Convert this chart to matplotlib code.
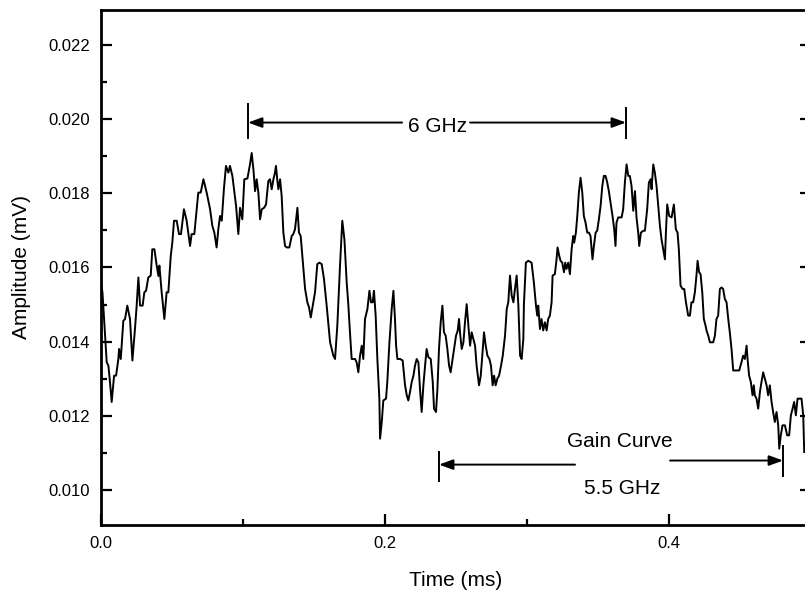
import matplotlib
matplotlib.use("Agg")
from matplotlib import pyplot as plt
from matplotlib.ticker import MultipleLocator, FormatStrFormatter

time_ms = [
    0.0000, 0.0010, 0.0020, 0.0040, 0.0052, 0.0063, 0.0075, 0.0092, 0.0106, 0.0122,
    0.0127, 0.0139, 0.0150, 0.0157, 0.0169, 0.0185, 0.0204, 0.0221, 0.0239, 0.0251,
    0.0263, 0.0275, 0.0293, 0.0305, 0.0317, 0.0333, 0.0350, 0.0361, 0.0376, 0.0392,
    0.0404, 0.0411, 0.0427, 0.0446, 0.0462, 0.0474, 0.0491, 0.0502, 0.0514, 0.0533,
    0.0549, 0.0563, 0.0584, 0.0603, 0.0627, 0.0638, 0.0657, 0.0674, 0.0685, 0.0702,
    0.0721, 0.0744, 0.0768, 0.0784, 0.0798, 0.0814, 0.0826, 0.0838, 0.0850, 0.0866,
    0.0880, 0.0897, 0.0908, 0.0925, 0.0951, 0.0967, 0.0979, 0.0995, 0.1009, 0.1031,
    0.1049, 0.1061, 0.1073, 0.1085, 0.1096, 0.1108, 0.1120, 0.1132, 0.1148, 0.1162,
    0.1178, 0.1190, 0.1202, 0.1214, 0.1225, 0.1232, 0.1242, 0.1249, 0.1261, 0.1272,
    0.1284, 0.1296, 0.1308, 0.1326, 0.1343, 0.1354, 0.1366, 0.1383, 0.1394, 0.1406,
    0.1420, 0.1437, 0.1453, 0.1465, 0.1477, 0.1491, 0.1507, 0.1523, 0.1538, 0.1554,
    0.1570, 0.1589, 0.1613, 0.1636, 0.1648, 0.1664, 0.1683, 0.1699, 0.1714, 0.1730,
    0.1742, 0.1753, 0.1765, 0.1789, 0.1800, 0.1812, 0.1824, 0.1836, 0.1847, 0.1859,
    0.1876, 0.1890, 0.1901, 0.1913, 0.1922, 0.1934, 0.1946, 0.1960, 0.1965, 0.1977,
    0.1988, 0.2007, 0.2016, 0.2031, 0.2047, 0.2059, 0.2070, 0.2078, 0.2087, 0.2106,
    0.2124, 0.2141, 0.2153, 0.2164, 0.2176, 0.2188, 0.2200, 0.2211, 0.2223, 0.2235,
    0.2246, 0.2258, 0.2270, 0.2282, 0.2293, 0.2305, 0.2322, 0.2336, 0.2345, 0.2359,
    0.2369, 0.2380, 0.2392, 0.2404, 0.2415, 0.2427, 0.2439, 0.2451, 0.2462, 0.2476,
    0.2486, 0.2500, 0.2512, 0.2521, 0.2528, 0.2540, 0.2552, 0.2563, 0.2575, 0.2587,
    0.2599, 0.2610, 0.2622, 0.2634, 0.2645, 0.2662, 0.2674, 0.2685, 0.2697, 0.2709,
    0.2721, 0.2735, 0.2746, 0.2758, 0.2768, 0.2779, 0.2791, 0.2803, 0.2817, 0.2829,
    0.2845, 0.2857, 0.2868, 0.2880, 0.2892, 0.2904, 0.2915, 0.2927, 0.2939, 0.2951,
    0.2962, 0.2974, 0.2978, 0.2992, 0.3009, 0.3032, 0.3048, 0.3063, 0.3072, 0.3079,
    0.3091, 0.3102, 0.3114, 0.3126, 0.3138, 0.3149, 0.3161, 0.3173, 0.3180, 0.3196,
    0.3208, 0.3215, 0.3227, 0.3236, 0.3248, 0.3260, 0.3269, 0.3278, 0.3290, 0.3302,
    0.3314, 0.3325, 0.3332, 0.3344, 0.3354, 0.3365, 0.3377, 0.3389, 0.3400, 0.3412,
    0.3424, 0.3436, 0.3447, 0.3461, 0.3471, 0.3483, 0.3494, 0.3506, 0.3518, 0.3530,
    0.3541, 0.3553, 0.3565, 0.3576, 0.3588, 0.3602, 0.3614, 0.3623, 0.3630, 0.3642,
    0.3654, 0.3666, 0.3677, 0.3689, 0.3701, 0.3713, 0.3724, 0.3736, 0.3748, 0.3760,
    0.3771, 0.3783, 0.3790, 0.3802, 0.3818, 0.3830, 0.3846, 0.3858, 0.3870, 0.3877,
    0.3889, 0.3900, 0.3912, 0.3924, 0.3936, 0.3947, 0.3959, 0.3971, 0.3978, 0.3987,
    0.4001, 0.4018, 0.4034, 0.4048, 0.4060, 0.4069, 0.4081, 0.4095, 0.4107, 0.4119,
    0.4135, 0.4147, 0.4158, 0.4170, 0.4182, 0.4194, 0.4201, 0.4212, 0.4222, 0.4234,
    0.4245, 0.4257, 0.4264, 0.4276, 0.4288, 0.4299, 0.4311, 0.4323, 0.4334, 0.4346,
    0.4358, 0.4370, 0.4381, 0.4393, 0.4405, 0.4417, 0.4428, 0.4440, 0.4452, 0.4471,
    0.4494, 0.4510, 0.4522, 0.4534, 0.4546, 0.4553, 0.4564, 0.4576, 0.4588, 0.4597,
    0.4604, 0.4616, 0.4628, 0.4640, 0.4651, 0.4663, 0.4675, 0.4687, 0.4698, 0.4710,
    0.4722, 0.4733, 0.4745, 0.4757, 0.4769, 0.4776, 0.4787, 0.4799, 0.4816, 0.4832,
    0.4846, 0.4858, 0.4870, 0.4881, 0.4893, 0.4905, 0.4921, 0.4933, 0.4945, 0.4952,
]

amplitude_mv = [
    0.01560, 0.01533, 0.01470, 0.01344, 0.01335, 0.01291, 0.01237, 0.01308, 0.01308, 0.01353,
    0.01380, 0.01353, 0.01416, 0.01456, 0.01461, 0.01497, 0.01461, 0.01349, 0.01434, 0.01497,
    0.01573, 0.01497, 0.01497, 0.01533, 0.01537, 0.01573, 0.01578, 0.01649, 0.01649, 0.01605,
    0.01577, 0.01605, 0.01533, 0.01461, 0.01533, 0.01533, 0.01631, 0.01667, 0.01726, 0.01726,
    0.01690, 0.01690, 0.01757, 0.01726, 0.01658, 0.01690, 0.01690, 0.01757, 0.01802, 0.01802,
    0.01838, 0.01802, 0.01757, 0.01712, 0.01694, 0.01654, 0.01703, 0.01739, 0.01726, 0.01815,
    0.01874, 0.01856, 0.01874, 0.01847, 0.01766, 0.01690, 0.01761, 0.01730, 0.01838, 0.01840,
    0.01878, 0.01909, 0.01865, 0.01806, 0.01838, 0.01802, 0.01730, 0.01757, 0.01761, 0.01770,
    0.01833, 0.01838, 0.01811, 0.01838, 0.01856, 0.01874, 0.01833, 0.01811, 0.01838, 0.01793,
    0.01694, 0.01658, 0.01654, 0.01654, 0.01685, 0.01690, 0.01703, 0.01761, 0.01694, 0.01685,
    0.01622, 0.01542, 0.01506, 0.01492, 0.01465, 0.01497, 0.01533, 0.01609, 0.01613, 0.01609,
    0.01569, 0.01497, 0.01398, 0.01362, 0.01353, 0.01443, 0.01605, 0.01726, 0.01676, 0.01560,
    0.01497, 0.01425, 0.01353, 0.01353, 0.01344, 0.01317, 0.01362, 0.01389, 0.01353, 0.01461,
    0.01488, 0.01537, 0.01506, 0.01506, 0.01537, 0.01470, 0.01353, 0.01246, 0.01138, 0.01183,
    0.01241, 0.01246, 0.01291, 0.01398, 0.01488, 0.01537, 0.01461, 0.01389, 0.01353, 0.01353,
    0.01349, 0.01282, 0.01255, 0.01241, 0.01264, 0.01291, 0.01308, 0.01335, 0.01353, 0.01344,
    0.01273, 0.01210, 0.01282, 0.01335, 0.01380, 0.01358, 0.01353, 0.01291, 0.01219, 0.01210,
    0.01273, 0.01380, 0.01452, 0.01497, 0.01425, 0.01416, 0.01380, 0.01335, 0.01317, 0.01353,
    0.01380, 0.01416, 0.01430, 0.01461, 0.01425, 0.01380, 0.01398, 0.01452, 0.01501, 0.01443,
    0.01389, 0.01425, 0.01407, 0.01389, 0.01335, 0.01282, 0.01308, 0.01362, 0.01425, 0.01389,
    0.01362, 0.01353, 0.01335, 0.01282, 0.01308, 0.01282, 0.01300, 0.01308, 0.01335, 0.01362,
    0.01416, 0.01488, 0.01506, 0.01578, 0.01524, 0.01506, 0.01542, 0.01578, 0.01497, 0.01362,
    0.01353, 0.01407, 0.01500, 0.01613, 0.01618, 0.01613, 0.01560, 0.01497, 0.01470, 0.01497,
    0.01434, 0.01461, 0.01430, 0.01452, 0.01430, 0.01461, 0.01470, 0.01506, 0.01578, 0.01582,
    0.01622, 0.01654, 0.01631, 0.01618, 0.01613, 0.01587, 0.01613, 0.01596, 0.01613, 0.01582,
    0.01649, 0.01685, 0.01667, 0.01694, 0.01739, 0.01802, 0.01842, 0.01802, 0.01739, 0.01721,
    0.01694, 0.01694, 0.01685, 0.01622, 0.01658, 0.01694, 0.01699, 0.01730, 0.01766, 0.01820,
    0.01847, 0.01847, 0.01829, 0.01806, 0.01775, 0.01739, 0.01703, 0.01658, 0.01721, 0.01735,
    0.01735, 0.01735, 0.01757, 0.01829, 0.01878, 0.01847, 0.01847, 0.01820, 0.01753, 0.01806,
    0.01735, 0.01694, 0.01658, 0.01694, 0.01699, 0.01699, 0.01757, 0.01829, 0.01838, 0.01811,
    0.01878, 0.01856, 0.01820, 0.01766, 0.01712, 0.01676, 0.01649, 0.01622, 0.01694, 0.01770,
    0.01739, 0.01735, 0.01770, 0.01703, 0.01694, 0.01649, 0.01551, 0.01542, 0.01542, 0.01506,
    0.01470, 0.01470, 0.01506, 0.01506, 0.01533, 0.01582, 0.01618, 0.01587, 0.01582, 0.01533,
    0.01461, 0.01443, 0.01430, 0.01416, 0.01398, 0.01398, 0.01398, 0.01416, 0.01461, 0.01470,
    0.01542, 0.01546, 0.01542, 0.01515, 0.01506, 0.01461, 0.01425, 0.01380, 0.01322, 0.01322,
    0.01322, 0.01344, 0.01362, 0.01353, 0.01389, 0.01353, 0.01308, 0.01291, 0.01255, 0.01282,
    0.01255, 0.01246, 0.01219, 0.01264, 0.01291, 0.01317, 0.01300, 0.01282, 0.01255, 0.01282,
    0.01237, 0.01210, 0.01183, 0.01210, 0.01174, 0.01111, 0.01147, 0.01174, 0.01174, 0.01147,
    0.01147, 0.01201, 0.01219, 0.01237, 0.01201, 0.01246, 0.01246, 0.01246, 0.01201, 0.01102,
]

x_ticks = [0.0, 0.2, 0.4]
y_ticks = [0.010, 0.012, 0.014, 0.016, 0.018, 0.020, 0.022]

# annotation spans (ms) and levels (mV)
span_6ghz = (0.1035, 0.3697)
span_6ghz_gap = (0.2120, 0.2599)
span_6ghz_y = 0.01991
span_gain_left = (0.2380, 0.3338)
span_gain_right = (0.4007, 0.4803)
span_gain_y = (0.01068, 0.01079)
label_6ghz = (0.2373, 0.01980, "6 GHz")
label_gain = (0.3655, 0.01130, "Gain Curve")
label_55ghz = (0.3669, 0.01004, "5.5 GHz")

plt.rcParams['font.family'] = ['Liberation Sans', 'DejaVu Sans']

fig = plt.figure(figsize=(8.05, 5.99), dpi=100)
ax = fig.add_axes([0.1255, 0.1235, 0.882, 0.860])

ax.plot(time_ms, amplitude_mv, color="black", linewidth=1.4)

ax.set_xlim(0.0, 0.5)
ax.set_ylim(0.00905, 0.02295)
ax.set_xticks(x_ticks)
ax.set_yticks(y_ticks)
ax.xaxis.set_minor_locator(MultipleLocator(0.1))
ax.yaxis.set_minor_locator(MultipleLocator(0.001))
ax.xaxis.set_major_formatter(FormatStrFormatter('%.1f'))
ax.yaxis.set_major_formatter(FormatStrFormatter('%.3f'))

ax.tick_params(which='both', direction='in', right=True, top=False, labelsize=12,
               width=1.6, pad=8)
ax.tick_params(which='major', length=8)
ax.tick_params(which='minor', length=4)
for s in ax.spines.values():
    s.set_linewidth(2.0)

ax.set_xlabel("Time (ms)", fontsize=15, labelpad=14)
ax.set_ylabel("Amplitude (mV)", fontsize=15, labelpad=12)

arrow = dict(arrowstyle='-|>,head_length=0.6,head_width=0.22', color='black',
             lw=1.4, mutation_scale=14, shrinkA=0, shrinkB=0)

# 6 GHz span
ax.annotate("", xy=(span_6ghz[0], span_6ghz_y), xytext=(span_6ghz_gap[0], span_6ghz_y),
            arrowprops=arrow)
ax.annotate("", xy=(span_6ghz[1], span_6ghz_y), xytext=(span_6ghz_gap[1], span_6ghz_y),
            arrowprops=arrow)
ax.plot([span_6ghz[0], span_6ghz[0]], [span_6ghz_y - 0.00043, span_6ghz_y + 0.00050],
        color='black', lw=1.4)
ax.plot([span_6ghz[1], span_6ghz[1]], [span_6ghz_y - 0.00043, span_6ghz_y + 0.00040],
        color='black', lw=1.4)
ax.text(label_6ghz[0], label_6ghz[1], label_6ghz[2], fontsize=15, ha='center', va='center')

# gain curve span
ax.annotate("", xy=(span_gain_left[0], span_gain_y[0]), xytext=(span_gain_left[1], span_gain_y[0]),
            arrowprops=arrow)
ax.annotate("", xy=(span_gain_right[1], span_gain_y[1]), xytext=(span_gain_right[0], span_gain_y[1]),
            arrowprops=arrow)
ax.plot([span_gain_left[0], span_gain_left[0]], [span_gain_y[0] - 0.00045, span_gain_y[0] + 0.00035],
        color='black', lw=1.4)
ax.plot([span_gain_right[1], span_gain_right[1]], [span_gain_y[1] - 0.00043, span_gain_y[1] + 0.00040],
        color='black', lw=1.4)
ax.text(label_gain[0], label_gain[1], label_gain[2], fontsize=15, ha='center', va='center')
ax.text(label_55ghz[0], label_55ghz[1], label_55ghz[2], fontsize=15, ha='center', va='center')

fig.savefig("out.png", dpi=100)
